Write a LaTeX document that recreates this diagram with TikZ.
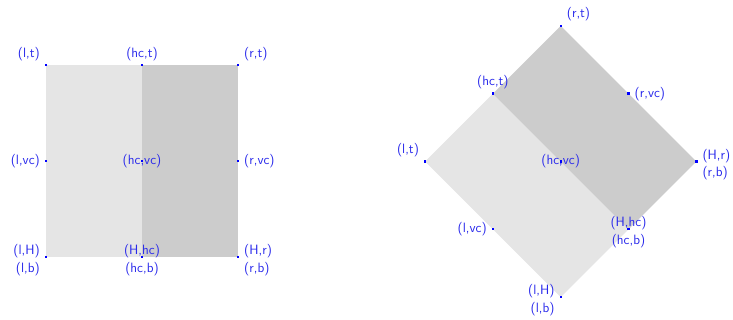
\documentclass[tikz,border=0pt]{standalone}
\definecolor{labblue}{RGB}{40,40,235}
\tikzset{
  lightpart/.style={fill=gray!20},
  darkpart/.style={fill=gray!40},
  anchordot/.style={rectangle,fill=blue,inner sep=0pt,minimum size=2.4pt},
  lab/.style={text=labblue,inner sep=0pt,font=\fontsize{13.5}{16}\selectfont\sffamily},
  labAL/.style={lab,anchor=east,xshift=-6pt,yshift=11.5pt},
  labA/.style={lab,anchor=center,yshift=11.5pt},
  labAR/.style={lab,anchor=west,xshift=6pt,yshift=11.5pt},
  labL/.style={lab,anchor=east,xshift=-6pt},
  labR/.style={lab,anchor=west,xshift=6pt},
  labC/.style={lab,anchor=center},
  labUL/.style={lab,anchor=east,xshift=-6pt,yshift=5.8pt},
  labU/.style={lab,anchor=center,yshift=5.8pt},
  labUR/.style={lab,anchor=west,xshift=6pt,yshift=5.8pt},
  labBL/.style={lab,anchor=east,xshift=-6pt,yshift=-12pt},
  labB/.style={lab,anchor=center,yshift=-12pt},
  labBR/.style={lab,anchor=west,xshift=6pt,yshift=-12pt},
}
\begin{document}
\begin{tikzpicture}[x=1pt,y=-1pt]
\useasboundingbox (0,0) rectangle (733,320);
% left square
\coordinate (Alt) at (46,65.3);
\coordinate (Ahct) at (142,65.3);
\coordinate (Art) at (238,65.3);
\coordinate (Alvc) at (46,161.3);
\coordinate (Ahcvc) at (142,161.3);
\coordinate (Arvc) at (238,161.3);
\coordinate (Alb) at (46,257.3);
\coordinate (Ahcb) at (142,257.3);
\coordinate (Arb) at (238,257.3);
\fill[lightpart] (Alt) rectangle (Ahcb);
\fill[darkpart] (Ahct) rectangle (Arb);
% right diamond
\coordinate (Brt) at (560.7,25.9);
\coordinate (Bhct) at (492.9,93.7);
\coordinate (Blt) at (425.1,161.5);
\coordinate (Brvc) at (628.5,93.7);
\coordinate (Bhcvc) at (560.7,161.5);
\coordinate (Brb) at (696.3,161.5);
\coordinate (Bhcb) at (628.5,229.3);
\coordinate (Blvc) at (492.9,229.3);
\coordinate (Blb) at (560.7,297.1);
\fill[lightpart] (Blt) -- (Bhct) -- (Bhcb) -- (Blb) -- cycle;
\fill[darkpart] (Bhct) -- (Brt) -- (Brb) -- (Bhcb) -- cycle;
% labels left
\node[labAL] (a1) at (Alt) {(l,t)};
\node[labA] (a2) at (Ahct) {(hc,t)};
\node[labAR] (a3) at (Art) {(r,t)};
\node[labL] (a4) at (Alvc) {(l,vc)};
\node[labC] (a5) at (Ahcvc) {(hc,vc)};
\node[labR] (a6) at (Arvc) {(r,vc)};
\node[labUL] (a7) at (Alb) {(l,H)};
\node[labBL] (a8) at (Alb) {(l,b)};
\node[labU] (a9) at (Ahcb) {(H,hc)};
\node[labB] (a10) at (Ahcb) {(hc,b)};
\node[labUR] (a11) at (Arb) {(H,r)};
\node[labBR] (a12) at (Arb) {(r,b)};
% labels right
\node[labAL] (b1) at (Blt) {(l,t)};
\node[labA] (b2) at (Bhct) {(hc,t)};
\node[labAR] (b3) at (Brt) {(r,t)};
\node[labL] (b4) at (Blvc) {(l,vc)};
\node[labC] (b5) at (Bhcvc) {(hc,vc)};
\node[labR] (b6) at (Brvc) {(r,vc)};
\node[labUL] (b7) at (Blb) {(l,H)};
\node[labBL] (b8) at (Blb) {(l,b)};
\node[labU] (b9) at (Bhcb) {(H,hc)};
\node[labB] (b10) at (Bhcb) {(hc,b)};
\node[labUR] (b11) at (Brb) {(H,r)};
\node[labBR] (b12) at (Brb) {(r,b)};
% dots
\foreach \c in {Alt,Ahct,Art,Alvc,Ahcvc,Arvc,Alb,Ahcb,Arb,Brt,Bhct,Blt,Brvc,Bhcvc,Brb,Bhcb,Blvc,Blb}
  \node[anchordot] (d\c) at (\c) {};
\end{tikzpicture}
\end{document}
